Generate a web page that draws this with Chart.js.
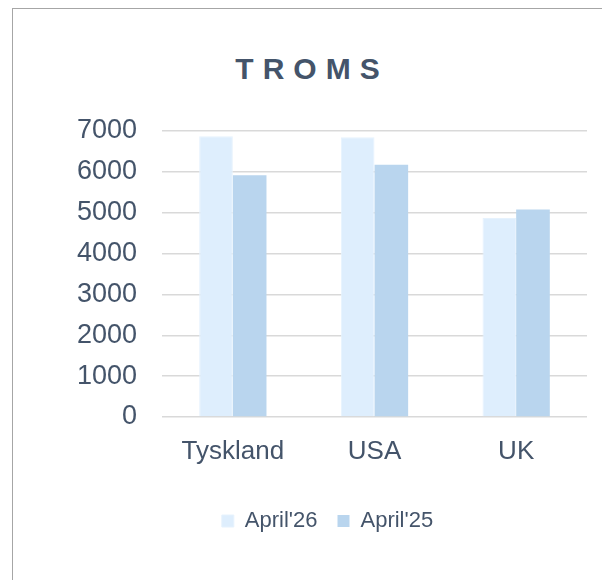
<!DOCTYPE html>
<html>
<head>
<meta charset="utf-8">
<script src="https://cdn.jsdelivr.net/npm/chart.js@4/dist/chart.umd.min.js"></script>
<style>
  html, body { margin: 0; padding: 0; background: #fff; }
  #wrap { position: relative; width: 602px; height: 580px; overflow: hidden; }
  #frame { position: absolute; left: 12px; top: 8px; width: 620px; height: 600px; border: 1px solid #a6a6a6; box-sizing: border-box; }
  #title { position: absolute; left: 0; top: 52px; width: 624px; text-align: center;
           font: bold 30px "Liberation Sans", Arial, sans-serif; color: #44546A; letter-spacing: 9px; }
  canvas { position: absolute; left: 0; top: 0; }
</style>
</head>
<body>
<div id="wrap">
  <div id="frame"></div>
  <div id="title">TROMS</div>
  <canvas id="chart" width="602" height="580"></canvas>
</div>
<script>
const categories = ["Tyskland", "USA", "UK"];
const april26 = [6870, 6850, 4870];
const april25 = [5920, 6175, 5080];
const seriesNames = ["April'26", "April'25"];

const textColor = "#44546A";
const fontFamily = '"Liberation Sans", Arial, sans-serif';

const ctx = document.getElementById("chart").getContext("2d");
new Chart(ctx, {
    type: "bar",
    data: {
        labels: categories,
        datasets: [
            {
                label: seriesNames[0],
                data: april26,
                backgroundColor: "#DEEEFD",
                borderColor: "#E6F2FD",
                borderWidth: 1,
            },
            {
                label: seriesNames[1],
                data: april25,
                backgroundColor: "#B9D5EE",
                borderWidth: 0,
            },
        ],
    },
    options: {
        responsive: false,
        animation: false,
        layout: {
            padding: { top: 131, right: 15, bottom: 38, left: 68 },
        },
        datasets: {
            bar: { barPercentage: 1, categoryPercentage: 0.475 },
        },
        plugins: {
            tooltip: { enabled: false },
            legend: {
                position: "bottom",
                labels: {
                    color: textColor,
                    font: { family: fontFamily, size: 22 },
                    boxWidth: 12,
                    boxHeight: 12,
                    padding: 20,
                },
            },
        },
        scales: {
            x: {
                grid: { display: false },
                border: { display: false },
                ticks: {
                    color: textColor,
                    font: { family: fontFamily, size: 26 },
                    padding: 11,
                },
                afterFit: (axis) => { axis.height = 73; },
            },
            y: {
                min: 0,
                max: 7000,
                grid: { color: "#D9D9D9", lineWidth: 1.5, drawTicks: false },
                border: { display: false },
                ticks: {
                    stepSize: 1000,
                    color: textColor,
                    font: { family: fontFamily, size: 27 },
                    padding: 25,
                    callback: (value) => String(value),
                },
                afterFit: (axis) => { axis.width = 94; },
            },
        },
    },
});
</script>
</body>
</html>
